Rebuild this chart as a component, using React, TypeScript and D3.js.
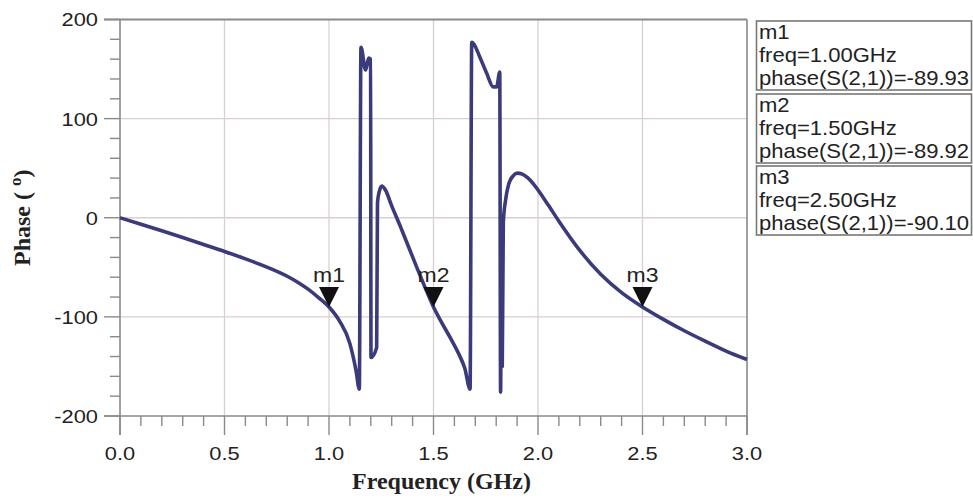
import React from "react";
import * as d3 from "d3";

const freqGHz = [
  0.0, 0.1, 0.2, 0.3, 0.4, 0.5, 0.6, 0.7, 0.8, 0.85, 0.9, 0.95, 1.0, 1.05, 1.1, 1.13, 1.145,
  1.153, 1.175, 1.19, 1.199, 1.201, 1.228, 1.232, 1.24, 1.253, 1.27, 1.3, 1.34, 1.38, 1.42, 1.46, 1.5,
  1.54, 1.58, 1.62, 1.65, 1.675, 1.683, 1.69, 1.722, 1.754, 1.786, 1.802, 1.817, 1.821, 1.825, 1.829,
  1.834, 1.845, 1.86, 1.88, 1.9, 1.925, 1.95, 1.975, 2.0, 2.05, 2.1, 2.2, 2.3, 2.4, 2.5, 2.6, 2.7, 2.8,
  2.9, 3.0,
];
const phaseDeg = [
  0, -6.5, -13.2, -20, -27, -34, -41.5, -49.5, -59, -65, -72, -80.5, -90, -104, -127, -155, -173,
  172, 149, 161, 160, -141, -131, 15, 26, 32, 28, 12, -8, -29, -50, -70.5, -90,
  -106, -121, -137, -152, -173, 177, 176, 162, 146, 132, 132, 147, -176, -25, -150,
  -5, 18, 34, 42, 45, 44, 40.5, 35, 28, 12.5, -3.5, -33, -57, -75.5, -90, -102.5, -114, -124.5,
  -134.5, -143,
];

const markerNames = ["m1", "m2", "m3"];
const markerFreq = [1.0, 1.5, 2.5];
const markerPhase = [-89.93, -89.92, -90.1];

const xTicks = [0, 0.5, 1.0, 1.5, 2.0, 2.5, 3.0];
const yTicks = [200, 100, 0, -100, -200];

const W = 973;
const H = 498;
const left = 120;
const right = 747;
const top = 19.5;
const bottom = 416;

export default function App() {
  const x = d3.scaleLinear().domain([0, 3]).range([left, right]);
  const y = d3.scaleLinear().domain([-200, 200]).range([bottom, top]);
  const data = freqGHz.map((f, i) => [f, phaseDeg[i]] as [number, number]);
  const line = d3
    .line<[number, number]>()
    .x((d) => x(d[0]))
    .y((d) => y(d[1]))
    .curve(d3.curveMonotoneX);

  const minorX = d3.range(0, 31).map((i) => i / 10);
  const minorY = d3.range(-200, 201, 20);
  const sans = "'Liberation Sans', Arial, sans-serif";
  const serif = "'Liberation Serif', 'Times New Roman', serif";
  const axisColor = "#8a8a8a";
  const gridColor = "#d9cfcf";
  const curveColor = "#3b3a7a";

  const legendTop = [21, 94, 166];
  const legendH = 69;

  return (
    <div style={{ position: "absolute", left: 0, top: 0 }}>
      <svg width={W} height={H} style={{ display: "block", background: "#fff" }}>
        {/* grid */}
        {xTicks.slice(1, -1).map((t) => (
          <line key={"gx" + t} x1={x(t)} x2={x(t)} y1={top} y2={bottom} stroke={gridColor} strokeWidth={1.3} />
        ))}
        {yTicks.slice(1, -1).map((t) => (
          <line key={"gy" + t} x1={left} x2={right} y1={y(t)} y2={y(t)} stroke={gridColor} strokeWidth={1.3} />
        ))}
        {/* frame */}
        <line x1={left - 16} x2={right} y1={top} y2={top} stroke={axisColor} strokeWidth={2} />
        <line x1={right} x2={right} y1={top} y2={bottom + 19} stroke={axisColor} strokeWidth={1.6} />
        <line x1={left} x2={left} y1={top} y2={bottom + 19} stroke={axisColor} strokeWidth={1.6} />
        <line x1={left - 16} x2={right} y1={bottom} y2={bottom} stroke={axisColor} strokeWidth={1.6} />
        {/* y ticks */}
        {minorY.map((t) => (
          <line
            key={"ty" + t}
            x1={t % 100 === 0 ? left - 16 : left - 10}
            x2={left}
            y1={y(t)}
            y2={y(t)}
            stroke={axisColor}
            strokeWidth={1.4}
          />
        ))}
        {/* x ticks */}
        {minorX.map((t, i) => (
          <line
            key={"tx" + i}
            x1={x(t)}
            x2={x(t)}
            y1={bottom}
            y2={i % 5 === 0 ? bottom + 19 : bottom + 10}
            stroke={axisColor}
            strokeWidth={1.4}
          />
        ))}
        {/* y labels */}
        {yTicks.map((t) => (
          <g key={"ly" + t} transform={`translate(${left - 22},${y(t)}) scale(1.15,1)`}>
            <text textAnchor="end" dominantBaseline="central" fontFamily={sans} fontSize={19} fill="#222">
              {t}
            </text>
          </g>
        ))}
        {/* x labels */}
        {xTicks.map((t) => (
          <g key={"lx" + t} transform={`translate(${x(t)},${bottom + 44}) scale(1.15,1)`}>
            <text textAnchor="middle" fontFamily={sans} fontSize={19} fill="#222">
              {t.toFixed(1)}
            </text>
          </g>
        ))}
        {/* axis titles */}
        <text
          x={(left + right) / 2 + 8}
          y={489}
          textAnchor="middle"
          fontFamily={serif}
          fontWeight="bold"
          fontSize={24}
          fill="#222"
        >
          Frequency (GHz)
        </text>
        <g transform={`translate(30,${y(0)}) rotate(-90)`}>
          <text textAnchor="middle" fontFamily={serif} fontWeight="bold" fontSize={24} fill="#222">
            {"Phase ( "}
            <tspan dy={-9} fontSize={17}>
              o
            </tspan>
            <tspan dy={9}>)</tspan>
          </text>
        </g>
        {/* curve */}
        <path d={line(data) ?? ""} fill="none" stroke={curveColor} strokeWidth={3.6} strokeLinejoin="round" />
        {/* markers */}
        {markerNames.map((m, i) => {
          const px = x(markerFreq[i]);
          const py = y(markerPhase[i]);
          return (
            <g key={m}>
              <path d={`M${px - 10},${py - 20} L${px + 10},${py - 20} L${px},${py} Z`} fill="#111" />
              <g transform={`translate(${px},${py - 25}) scale(1.15,1)`}>
                <text textAnchor="middle" fontFamily={sans} fontSize={20} fill="#222">
                  {m}
                </text>
              </g>
            </g>
          );
        })}
        {/* marker readout boxes */}
        {markerNames.map((m, i) => (
          <g key={"box" + m}>
            <rect
              x={756.5}
              y={legendTop[i]}
              width={215}
              height={legendH}
              fill="#fff"
              stroke="#777"
              strokeWidth={1.6}
            />
            <g transform={`translate(759,${legendTop[i]}) scale(1.05,1)`} fontFamily={sans} fontSize={21} fill="#222">
              <text x={0} y={18}>{m}</text>
              <text x={0} y={41}>{`freq=${markerFreq[i].toFixed(2)}GHz`}</text>
              <text x={0} y={64}>{`phase(S(2,1))=${markerPhase[i].toFixed(2)}`}</text>
            </g>
          </g>
        ))}
      </svg>
    </div>
  );
}
